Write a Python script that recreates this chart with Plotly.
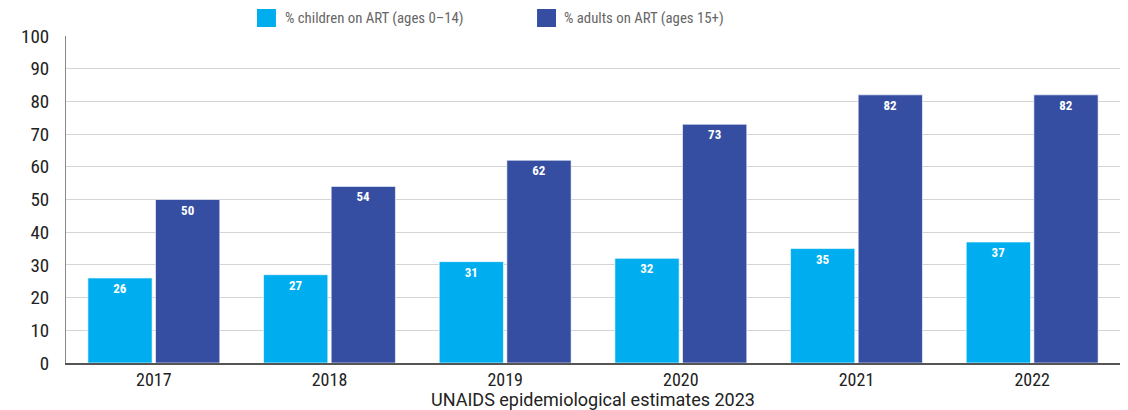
import plotly.graph_objects as go

years = ["2017", "2018", "2019", "2020", "2021", "2022"]
children = [26, 27, 31, 32, 35, 37]
adults = [50, 54, 62, 73, 82, 82]
series_names = ["% children on ART (ages 0–14)", "% adults on ART (ages 15+)"]
colors = ["#00AEEF", "#354EA1"]
y_ticks = [0, 10, 20, 30, 40, 50, 60, 70, 80, 90, 100]
x_title = "UNAIDS epidemiological estimates 2023"

FONT = "Roboto Condensed, Liberation Sans Narrow, Arial Narrow, Roboto, sans-serif"

fig = go.Figure()
for name, vals, col in zip(series_names, [children, adults], colors):
    fig.add_trace(go.Bar(
        x=years, y=vals, name=name, marker=dict(color=col, line=dict(color="rgba(255,255,255,0.6)", width=1)),
        text=[str(v) for v in vals], textposition="inside", insidetextanchor="end",
        textfont=dict(color="white", size=13, family=FONT, weight="bold"),
        showlegend=False, cliponaxis=False, hoverinfo="x+y",
    ))

# legend drawn as paper-positioned squares + labels
legend_x = [(0.1812, 0.1992, 0.2059), (0.4469, 0.4649, 0.4706)]
for (x0, x1, xt), name, col in zip(legend_x, series_names, colors):
    fig.add_shape(type="rect", xref="paper", yref="paper", x0=x0, x1=x1, y0=1.0275, y1=1.0826,
                  fillcolor=col, line=dict(width=0))
    fig.add_annotation(xref="paper", yref="paper", x=xt, y=1.055, xanchor="left", yanchor="middle",
                       text=name, showarrow=False, font=dict(size=14.8, color="#666666", family=FONT))

fig.update_layout(
    width=1128, height=410,
    margin=dict(l=66, r=8, t=36, b=47, autoexpand=False),
    paper_bgcolor="white", plot_bgcolor="white",
    barmode="group", bargap=0.23, bargroupgap=0.05,
    font=dict(family=FONT, color="#222222"),
    showlegend=False,
    xaxis=dict(showline=True, linecolor="#555555", linewidth=1.5, ticks="",
               tickfont=dict(size=18, color="#222222"),
               title=dict(text=x_title, font=dict(size=18, color="#222222", family="Roboto, sans-serif"),
                          standoff=4)),
    yaxis=dict(range=[0, 100], tickvals=y_ticks, showgrid=True, gridcolor="#d4d4d4", gridwidth=1,
               showline=True, linecolor="#888888", linewidth=1, ticks="",
               tickfont=dict(size=19, color="#222222"), ticklabelstandoff=12,
               zeroline=False),
)

fig.write_html("out.html", post_script="document.body.style.margin='0';",
               config={"displayModeBar": False})
